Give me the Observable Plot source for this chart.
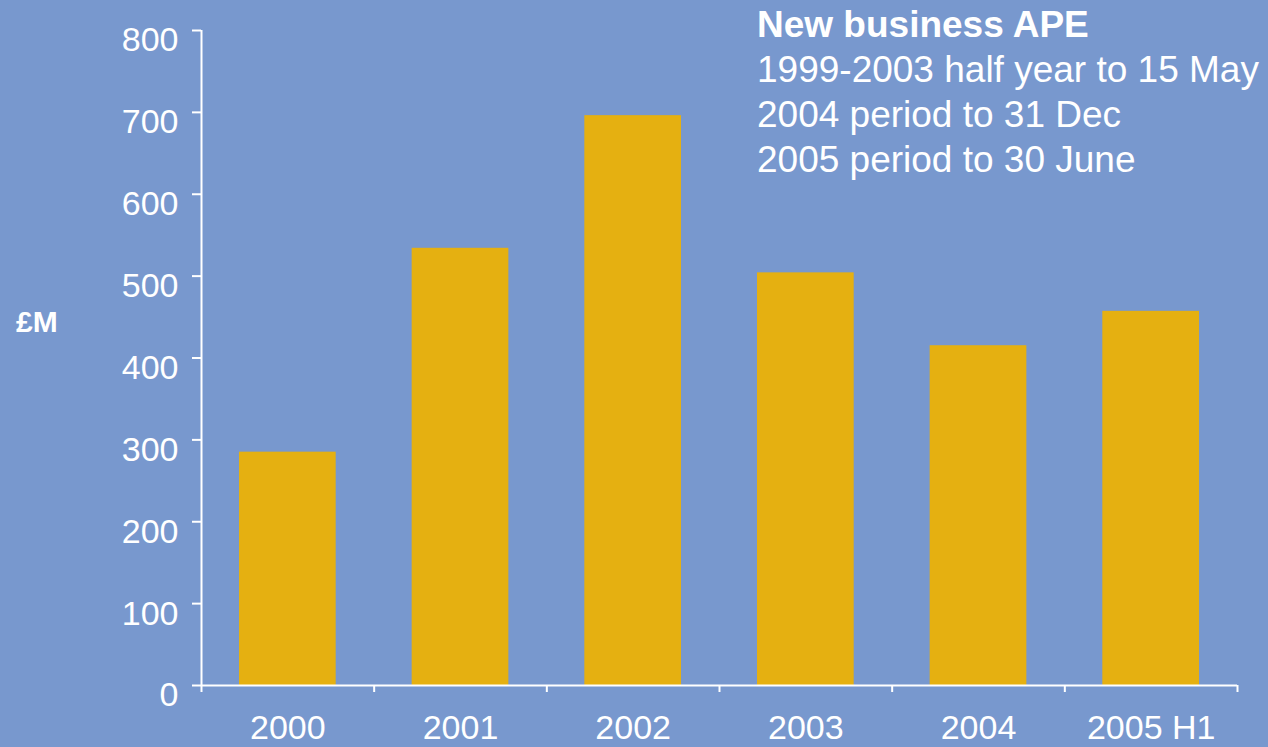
<!DOCTYPE html>
<html><head><meta charset="utf-8">
<script src="https://cdn.jsdelivr.net/npm/d3@7"></script>
<script src="https://cdn.jsdelivr.net/npm/@observablehq/plot@0.6"></script>
<style>
html,body{margin:0;padding:0;background:#7898CE;font-family:"Liberation Sans",Arial,sans-serif;}
#wrap{position:relative;width:1268px;height:747px;overflow:hidden;}
.note{position:absolute;left:757px;top:2px;color:#fff;font-size:37px;line-height:45px;white-space:nowrap;}
.note .t{font-weight:bold;}
.unit{position:absolute;left:16px;top:307px;color:#fff;font-size:30px;font-weight:bold;line-height:30px;}
</style></head><body>
<div id="wrap"></div>
<script>
const categories = ["2000", "2001", "2002", "2003", "2004", "2005 H1"];
const values = [285, 534, 696, 504, 415, 457];
const yTicks = [0, 100, 200, 300, 400, 500, 600, 700, 800];
const titleText = "New business APE";
const noteLines = ["1999-2003 half year to 15 May", "2004 period to 31 Dec", "2005 period to 30 June"];
const unitLabel = "£M";

const data = categories.map((c, i) => ({i, category: c, value: values[i]}));
const barInset = 0.22;
const white = "#ffffff";
const font = "'Liberation Sans', Arial, sans-serif";

const plot = Plot.plot({
  width: 1268,
  height: 747,
  marginLeft: 201,
  marginRight: 31,
  marginTop: 30,
  marginBottom: 62,
  style: {background: "transparent", color: white, fontFamily: font, fontSize: "34px"},
  x: {type: "linear", domain: [0, categories.length]},
  y: {domain: [0, 800]},
  marks: [
    Plot.rectY(data, {x1: d => d.i + barInset, x2: d => d.i + 1 - barInset, y1: 0, y2: "value", fill: "#E5B011"}),
    Plot.ruleX([0], {y1: 0, y2: 800, stroke: white, strokeWidth: 2}),
    Plot.ruleY([0], {x1: 0, x2: categories.length, stroke: white, strokeWidth: 2}),
    Plot.axisY({ticks: yTicks, tickSize: 9, tickFormat: () => "", strokeWidth: 2, label: null}),
    Plot.axisY({ticks: yTicks, tickSize: 0, tickPadding: 23, dy: 10, tickFormat: d => String(d), label: null, fontSize: 34, fill: white}),
    Plot.axisX({ticks: d3.range(0, categories.length + 1), tickSize: 7, tickFormat: () => "", strokeWidth: 2, label: null}),
    Plot.axisX({ticks: categories.map((c, i) => i + 0.5), tickSize: 0, tickPadding: 29, tickFormat: v => categories[Math.floor(v)], label: null, fontSize: 34, fill: white})
  ]
});

const wrap = document.getElementById("wrap");
wrap.appendChild(plot);
const note = document.createElement("div");
note.className = "note";
const t = document.createElement("div");
t.className = "t";
t.textContent = titleText;
note.appendChild(t);
for (const line of noteLines) {
  const d = document.createElement("div");
  d.textContent = line;
  note.appendChild(d);
}
wrap.appendChild(note);
const unit = document.createElement("div");
unit.className = "unit";
unit.textContent = unitLabel;
wrap.appendChild(unit);
</script>
</body></html>
